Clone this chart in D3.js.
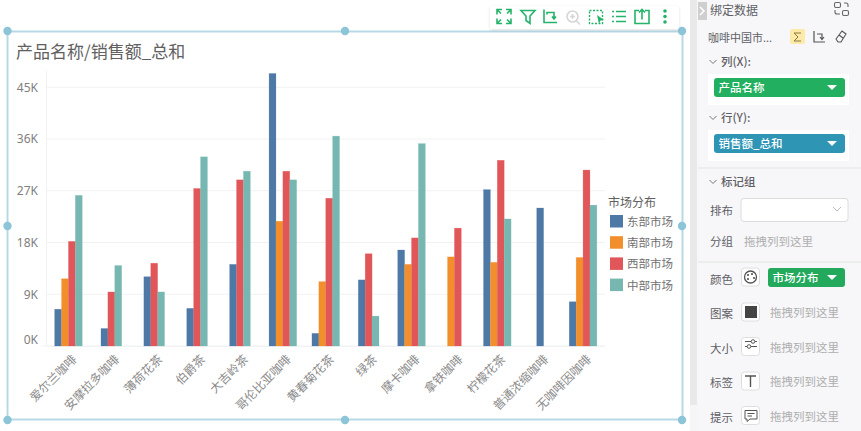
<!DOCTYPE html>
<html>
<head>
<meta charset="utf-8">
<script src="https://d3js.org/d3.v7.min.js"></script>
<style>
  body { margin: 0; background: #fff; overflow: hidden; }
  svg { display: block; }
  text { font-family: "Noto Sans CJK SC", "Noto Sans", sans-serif; }
  .axis text { font-family: "Noto Sans", "Noto Sans CJK SC", sans-serif; }
  .xaxis text { font-family: "Noto Sans CJK SC", sans-serif; }
</style>
</head>
<body>
<svg id="chart" width="861" height="431"></svg>
<script>
const categories = ["爱尔兰咖啡", "安摩拉多咖啡", "薄荷花茶", "伯爵茶", "大吉岭茶", "哥伦比亚咖啡", "黄春菊花茶",
    "绿茶", "摩卡咖啡", "拿铁咖啡", "柠檬花茶", "普通浓缩咖啡", "无咖啡因咖啡"];
const markets = ["东部市场", "南部市场", "西部市场", "中部市场"];
const colors = ["#4e79a7", "#f28e2b", "#e15759", "#76b7b2"];
// 缺失的市场用 null
const east = [6400, 3050, 12050, 6550, 14200, 47400, 2200, 11500, 16700, null, 27200, 24000, 7700];
const south = [11700, null, null, null, null, 21700, 11200, null, 14200, 15500, 14550, null, 15400];
const west = [18200, 9400, 14400, 27400, 28900, 30400, 25700, 16050, 18800, 20500, 32300, null, 30600];
const middle = [26200, 14000, 9400, 32900, 30400, 28900, 36500, 5200, 35200, null, 22100, null, 24500];
const yTicks = [0, 9000, 18000, 27000, 36000, 45000];
const series = [east, south, west, middle];

const svg = d3.select("#chart");
const barW = 6.9;

const x = d3.scaleBand().domain(categories).range([47, 604.5]);
const y = d3.scaleLinear().domain([0, 48000]).range([346, 70]);

// 选中框
const frameColor = "#b7d9e5";
svg.append("rect").attr("x", 7.5).attr("y", 31.5).attr("width", 675).attr("height", 388)
    .attr("fill", "#fff").attr("stroke", frameColor).attr("stroke-width", 2);

// 网格线
svg.append("g").selectAll("line").data(yTicks).join("line")
    .attr("x1", 46).attr("x2", 605)
    .attr("y1", d => y(d)).attr("y2", d => y(d))
    .attr("stroke", "#f1f2f3").attr("stroke-width", 1);
svg.append("line").attr("x1", 46.5).attr("x2", 46.5).attr("y1", 71).attr("y2", 346)
    .attr("stroke", "#f1f2f3");
svg.append("line").attr("x1", 42).attr("x2", 46).attr("y1", y(0)).attr("y2", y(0))
    .attr("stroke", "#f1f2f3");

// y 轴，0K 往上挪一点
const yAxis = svg.append("g").attr("class", "axis").attr("transform", "translate(46,0)")
    .call(d3.axisLeft(y).tickValues(yTicks).tickSize(0).tickPadding(8).tickFormat(d => (d / 1000) + "K"));
yAxis.select(".domain").remove();
yAxis.selectAll("text").attr("fill", "#808080").attr("font-size", 12)
    .attr("transform", d => d === 0 ? "translate(0,-6)" : null);

// x 轴
const xAxis = svg.append("g").attr("class", "axis xaxis").attr("transform", "translate(0,346)")
    .call(d3.axisBottom(x).tickSize(0).tickPadding(0));
xAxis.select(".domain").attr("stroke", "#f1f2f3");
xAxis.selectAll("text")
    .attr("fill", "#8a8a8a").attr("font-size", 12)
    .attr("text-anchor", "end")
    .attr("dy", 0).attr("y", 0)
    .attr("transform", "translate(9,14) rotate(-45)");

// 柱子：每组只按有值的市场居中
const rows = categories.map((c, i) => {
    const present = series.map((s, k) => ({ k: k, v: s[i] })).filter(d => d.v !== null);
    const cx = x(c) + x.bandwidth() / 2;
    return present.map((d, j) => ({
        k: d.k, v: d.v,
        left: cx - present.length * barW / 2 + j * barW
    }));
});
svg.append("g").selectAll("g").data(rows).join("g")
    .selectAll("rect").data(d => d).join("rect")
    .attr("x", d => d.left)
    .attr("width", barW)
    .attr("y", d => y(d.v))
    .attr("height", d => y(0) - y(d.v))
    .attr("fill", d => colors[d.k])
    .attr("stroke", d => colors[d.k])
    .attr("stroke-opacity", 0.35)
    .attr("stroke-width", 0.6);

// 标题
svg.append("text").attr("x", 16).attr("y", 58).text("产品名称/销售额_总和")
    .attr("font-size", 17).attr("fill", "#606060");

// 图例
svg.append("text").attr("x", 608).attr("y", 207).text("市场分布")
    .attr("font-size", 12).attr("fill", "#606060");
const legend = svg.append("g").selectAll("g").data(markets).join("g")
    .attr("transform", (d, i) => `translate(610,${215 + i * 21.2})`);
legend.append("rect").attr("width", 13).attr("height", 12.5)
    .attr("fill", (d, i) => colors[i]);
legend.append("text").attr("x", 17).attr("y", 11).text(d => d)
    .attr("font-size", 11.5).attr("fill", "#707070");

// 选中框手柄
const handles = [[7.5, 31], [345, 31], [682, 31], [7.5, 226], [682, 226], [7.5, 420], [345, 420], [682, 420]];
svg.append("g").selectAll("circle").data(handles).join("circle")
    .attr("cx", d => d[0]).attr("cy", d => d[1]).attr("r", 4.2).attr("fill", "#8cc5d8");

// 工具条
const defs = svg.append("defs");
const shadow = defs.append("filter").attr("id", "shadow").attr("x", "-10%").attr("y", "-30%")
    .attr("width", "120%").attr("height", "160%");
shadow.append("feDropShadow").attr("dx", 0).attr("dy", 1).attr("stdDeviation", 1.5)
    .attr("flood-color", "#000").attr("flood-opacity", 0.12);
svg.append("rect").attr("x", 490).attr("y", 6).attr("width", 189).attr("height", 23).attr("rx", 2)
    .attr("fill", "#fff").attr("filter", "url(#shadow)");

const green = "#25b36b";
const toolIcons = [
    { x: 504, c: green, d: "M-7-2V-7H-2M-6-6L-3-3M2-7H7V-2M6-6L3-3M7 2V7H2M6 6L3 3M-2 7H-7V2M-6 6L-3 3" },
    { x: 528, c: green, d: "M-7-6H7L2-0.5V7L-2 4V-0.5Z" },
    { x: 550, c: green, d: "M-6-7V6H7M-3-2V-4H4V2M2 0L4 2.5L6 0" },
    { x: 573, c: "#d6d6d6", d: "M5 0A5.5 5.5 0 1 1 -6 0A5.5 5.5 0 1 1 5 0M3.5 4.5L7 8M-3 0H2M-0.5-2.5V2.5" },
    { x: 619, c: green, d: "M-7-5H-5M-3-5H7M-7 0H-5M-3 0H7M-7 5H-5M-3 5H7" },
    { x: 642, c: green, d: "M-3-6H-7V7H7V-6H3M0 3V-7M-3-4L0-7L3-4" }
];
svg.append("g").selectAll("path").data(toolIcons).join("path")
    .attr("transform", d => `translate(${d.x},16.5)`)
    .attr("d", d => d.d)
    .attr("fill", "none").attr("stroke", d => d.c).attr("stroke-width", 1.6);
svg.append("rect").attr("x", 589.5).attr("y", 10.5).attr("width", 13).attr("height", 13)
    .attr("fill", "none").attr("stroke", green).attr("stroke-width", 1.4).attr("stroke-dasharray", "2 1.5");
svg.append("path").attr("d", "M597 15L604 20L600.5 20.5L599 24Z").attr("fill", green);
svg.append("g").selectAll("circle").data([11, 16.5, 22]).join("circle")
    .attr("cx", 665).attr("cy", d => d).attr("r", 1.8).attr("fill", green);

// 右侧面板
svg.append("rect").attr("x", 690).attr("y", 405).attr("width", 7).attr("height", 26).attr("fill", "#f6f6f6");
svg.append("rect").attr("x", 690).attr("y", 0).attr("width", 7).attr("height", 405).attr("fill", "#e9e9e9");
svg.append("rect").attr("x", 697).attr("y", 0).attr("width", 164).attr("height", 431).attr("fill", "#f7f7f9");
svg.append("rect").attr("x", 698).attr("y", 2).attr("width", 9).attr("height", 18).attr("fill", "#cfcfcf");
svg.append("path").attr("d", "M700 7L704 11L700 15").attr("fill", "none").attr("stroke", "#fff").attr("stroke-width", 1.5);

[74, 130].forEach(top => {
    svg.append("rect").attr("x", 708).attr("y", top).attr("width", 141).attr("height", 31).attr("fill", "#fff");
});
[167, 261].forEach(top => {
    svg.append("rect").attr("x", 698).attr("y", top).attr("width", 163).attr("height", 2).attr("fill", "#eceded");
});

const panelLabels = [
    ["绑定数据", 710, 14.5, 12, 400], ["咖啡中国市...", 708, 42, 11, 400],
    ["列(X):", 721, 66, 11.5, 500], ["行(Y):", 721, 122, 11.5, 500], ["标记组", 721, 186, 11.5, 500],
    ["排布", 710, 215, 11.5, 400], ["分组", 710, 246, 11.5, 400],
    ["颜色", 710, 284, 11.5, 400], ["图案", 710, 318, 11.5, 400], ["大小", 710, 353, 11.5, 400],
    ["标签", 710, 387, 11.5, 400], ["提示", 710, 422, 11.5, 400]
];
svg.append("g").selectAll("text").data(panelLabels).join("text")
    .attr("x", d => d[1]).attr("y", d => d[2]).attr("font-size", d => d[3]).attr("font-weight", d => d[4])
    .attr("fill", "#5f5f66").text(d => d[0]);

const hints = [[744, 246], [770, 317], [770, 352], [770, 386], [770, 421]];
svg.append("g").selectAll("text").data(hints).join("text")
    .attr("x", d => d[0]).attr("y", d => d[1]).attr("font-size", 11.5)
    .attr("fill", "#aeaeae").text("拖拽列到这里");

const pills = [
    { x: 714, y: 78, w: 131, t: "产品名称", c: "#22b060" },
    { x: 714, y: 134, w: 131, t: "销售额_总和", c: "#2e95b5" },
    { x: 768, y: 268, w: 77, t: "市场分布", c: "#22a95c" }
];
const pill = svg.append("g").selectAll("g").data(pills).join("g")
    .attr("transform", d => `translate(${d.x},${d.y})`);
pill.append("rect").attr("width", d => d.w).attr("height", 19).attr("rx", 3).attr("fill", d => d.c);
pill.append("text").attr("x", 4.5).attr("y", 14).attr("font-size", 11.5).attr("font-weight", 500)
    .attr("fill", "#fff").text(d => d.t);
pill.append("path").attr("d", d => `M${d.w - 18} 7H${d.w - 8}L${d.w - 13} 12Z`).attr("fill", "#fff");

// 折叠箭头
[62, 118, 182].forEach(cy => {
    svg.append("path").attr("d", `M709.5 ${cy - 2}L713 ${cy + 1.5}L716.5 ${cy - 2}`)
        .attr("fill", "none").attr("stroke", "#777");
});

// 排布下拉框
svg.append("rect").attr("x", 741).attr("y", 198.5).attr("width", 107).attr("height", 23).attr("rx", 3)
    .attr("fill", "#fff").attr("stroke", "#dcdcdc");
svg.append("path").attr("d", "M833 207L837 211L841 207").attr("fill", "none").attr("stroke", "#bbb");

// 小图标框
const boxes = [268, 303, 337.5, 372, 406.5];
svg.append("g").selectAll("rect").data(boxes).join("rect")
    .attr("x", 741.5).attr("y", d => d).attr("width", 18).attr("height", 18).attr("rx", 3)
    .attr("fill", "#fff").attr("stroke", "#dedede");
svg.append("circle").attr("cx", 750.5).attr("cy", 277).attr("r", 6).attr("fill", "#fff").attr("stroke", "#555").attr("stroke-width", 1.3);
svg.append("g").selectAll("circle").data([[748, 275], [752, 274], [754, 278], [748, 279]]).join("circle")
    .attr("cx", d => d[0]).attr("cy", d => d[1]).attr("r", 1.1).attr("fill", "#555");
svg.append("rect").attr("x", 745).attr("y", 306).attr("width", 12).attr("height", 12).attr("fill", "#444");
svg.append("path").attr("d", "M745 341.5H751M755 341.5H757M745 346.5H747M751 346.5H757")
    .attr("stroke", "#555").attr("fill", "none");
svg.append("circle").attr("cx", 753).attr("cy", 341.5).attr("r", 1.8).attr("fill", "#fff").attr("stroke", "#555");
svg.append("circle").attr("cx", 749).attr("cy", 346.5).attr("r", 1.8).attr("fill", "#fff").attr("stroke", "#555");
svg.append("path").attr("d", "M745 376H756M750.5 376V387").attr("stroke", "#555").attr("stroke-width", 1.4).attr("fill", "none");
svg.append("path").attr("d", "M745 410.5H757V419H750L747 421.5V419H745Z M747.5 413.5H754.5M747.5 416H752")
    .attr("stroke", "#555").attr("fill", "none");

// 顶部图标
svg.append("rect").attr("x", 834.5).attr("y", 2.5).attr("width", 6).attr("height", 5).attr("rx", 1.5)
    .attr("fill", "none").attr("stroke", "#666").attr("stroke-width", 1.1);
svg.append("rect").attr("x", 842.5).attr("y", 10.5).attr("width", 6).attr("height", 5).attr("rx", 1.5)
    .attr("fill", "none").attr("stroke", "#666").attr("stroke-width", 1.1);
svg.append("path").attr("d", "M844 3H846Q848 3 848 5V7M835 10V12Q835 14 837 14H840")
    .attr("fill", "none").attr("stroke", "#666").attr("stroke-width", 1.1);
svg.append("rect").attr("x", 790).attr("y", 29).attr("width", 15).attr("height", 15).attr("rx", 2).attr("fill", "#fde9a8");
svg.append("path").attr("d", "M801 33H794L798 37L794 41H801").attr("fill", "none").attr("stroke", "#8a7a3a");
svg.append("path").attr("d", "M814 31V42H825M817 34H822V39M820 37L822 39.5L824 37")
    .attr("fill", "none").attr("stroke", "#555").attr("stroke-width", 1.2);
svg.append("path").attr("d", "M836 39L842 31L846 34L841 42H838Z M839 35L843 38")
    .attr("fill", "none").attr("stroke", "#555").attr("stroke-width", 1.1);
</script>
</body>
</html>
